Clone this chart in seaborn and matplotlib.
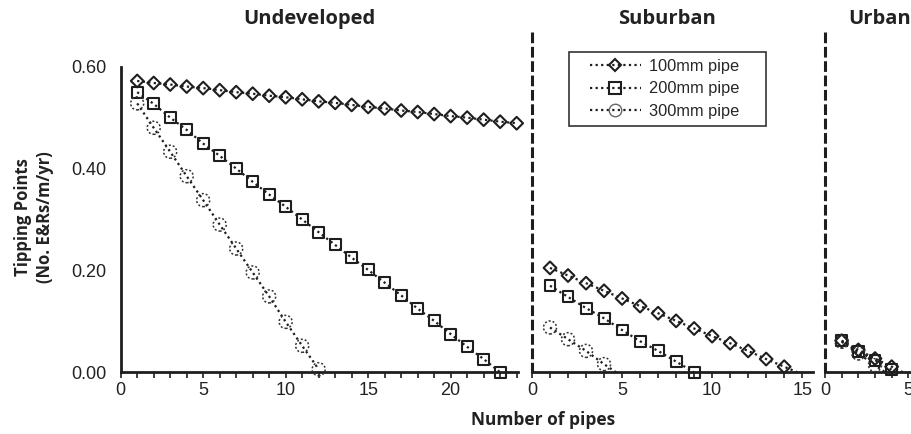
import seaborn as sns
import matplotlib.pyplot as plt
import pandas as pd
from matplotlib.lines import Line2D
from matplotlib.patches import Rectangle

# values
pipes_labels = ["100mm pipe", "200mm pipe", "300mm pipe"]

undev_100 = [0.572, 0.568, 0.565, 0.561, 0.558, 0.554, 0.550, 0.547, 0.543, 0.540, 0.536, 0.532,
             0.529, 0.525, 0.521, 0.518, 0.514, 0.511, 0.507, 0.503, 0.500, 0.496, 0.492, 0.489]
undev_200 = [0.550, 0.527, 0.500, 0.476, 0.449, 0.425, 0.400, 0.374, 0.349, 0.325, 0.300, 0.275,
             0.250, 0.225, 0.201, 0.176, 0.151, 0.125, 0.101, 0.075, 0.050, 0.026, 0.000]
undev_300 = [0.528, 0.480, 0.433, 0.385, 0.338, 0.290, 0.243, 0.196, 0.149, 0.099, 0.052, 0.006]

sub_100 = [0.205, 0.190, 0.175, 0.160, 0.145, 0.130, 0.116, 0.101, 0.086, 0.071, 0.057, 0.042,
           0.026, 0.011, -0.004]
sub_200 = [0.170, 0.148, 0.126, 0.106, 0.083, 0.061, 0.042, 0.021, 0.000]
sub_300 = [0.088, 0.065, 0.042, 0.016, -0.008]

urban_100 = [0.062, 0.044, 0.027, 0.011, -0.005]
urban_200 = [0.062, 0.040, 0.024, 0.005, -0.015]
urban_300 = [0.060, 0.037, 0.014, -0.009]

panel_titles = ["Undeveloped", "Suburban", "Urban"]
y_ticks = [0.0, 0.2, 0.4, 0.6]
y_ticklabels = ["0.00", "0.20", "0.40", "0.60"]

sns.set_style("white")
plt.rcParams["font.family"] = ["Liberation Sans", "DejaVu Sans"]

W, H = 912, 434
fig = plt.figure(figsize=(W / 100, H / 100), dpi=100)


def fx(px):
    return px / W


def fy(py):
    return 1 - py / H


y0, y1 = 372.3, 66.7
ax_u = fig.add_axes([fx(120.7), fy(y0), fx(518.3) - fx(120.7), fy(y1) - fy(y0)])
ax_s = fig.add_axes([fx(532), fy(y0), fx(813) - fx(532), fy(y1) - fy(y0)])
ax_r = fig.add_axes([fx(825), fy(y0), fx(1085) - fx(825), fy(y1) - fy(y0)])

markers = ["D", "s", "o"]
msizes = [42, 62, 88]
ink = "#1e1e1e"
dots = (0, (1, 1.5))


def draw(ax, series):
    for vals, mk, ms in zip(series, markers, msizes):
        df = pd.DataFrame({"n": range(1, len(vals) + 1), "tp": vals})
        sns.lineplot(data=df, x="n", y="tp", ax=ax, color=ink, lw=1.6,
                     linestyle=dots, dash_capstyle="butt")
        vis = df[df["tp"] >= 0]
        if mk == "o":
            sns.scatterplot(data=vis, x="n", y="tp", ax=ax, marker=mk, s=ms,
                            facecolor="none", edgecolor="#333333", linewidth=1.1,
                            linestyle=(0, (1.3, 1.3)), clip_on=False, zorder=3)
        else:
            sns.scatterplot(data=vis, x="n", y="tp", ax=ax, marker=mk, s=ms,
                            facecolor="none", edgecolor=ink, linewidth=1.5,
                            clip_on=False, zorder=3)


draw(ax_u, [undev_100, undev_200, undev_300])
draw(ax_s, [sub_100, sub_200, sub_300])
draw(ax_r, [urban_100, urban_200, urban_300])

for ax, xmax in [(ax_u, 24.1), (ax_s, 15.6), (ax_r, 15.6)]:
    ax.set_xlim(0, xmax)
    ax.set_ylim(0, 0.6)
    ax.set_xlabel("")
    ax.set_ylabel("")
    ax.set_xticks(range(0, int(xmax) + 1, 5))
    ax.set_xticks(range(0, int(xmax) + 1), minor=True)
    ax.tick_params(axis="x", which="both", direction="out", length=4, width=1.2,
                   color=ink, bottom=True, labelsize=13, labelcolor="#222222", pad=3)
    for side in ["top", "right"]:
        ax.spines[side].set_visible(False)
    ax.spines["bottom"].set_color(ink)
    ax.spines["bottom"].set_linewidth(2)
    ax.set_facecolor("none")

ax_u.set_yticks(y_ticks)
ax_u.set_yticklabels(y_ticklabels)
ax_u.tick_params(axis="y", length=0, labelsize=13, labelcolor="#222222", pad=10)
ax_u.spines["left"].set_color(ink)
ax_u.spines["left"].set_linewidth(2)
for ax in [ax_s, ax_r]:
    ax.spines["left"].set_visible(False)
    ax.set_yticks([])

# dashed separators between panels
for px in [532, 825]:
    fig.add_artist(Line2D([fx(px), fx(px)], [fy(32), fy(372.3)], color=ink, lw=2.2,
                          linestyle=(0, (3.5, 1.2))))

bold = dict(family=["Open Sans", "DejaVu Sans"], fontweight="bold", color="#222222")
fig.text(fx(309), fy(19), panel_titles[0], ha="center", va="center", fontsize=14.5, **bold)
fig.text(fx(666.7), fy(19), panel_titles[1], ha="center", va="center", fontsize=14.5, **bold)
fig.text(fx(848.3), fy(19), panel_titles[2], ha="left", va="center", fontsize=14.5, **bold)
fig.text(fx(543), fy(420), "Number of pipes", ha="center", va="center", fontsize=12.5, **bold)
fig.text(fx(34), fy(217), "Tipping Points\n(No. E&Rs/m/yr)", ha="center", va="center",
         rotation=90, fontsize=12, linespacing=1.25, **bold)

# legend
handles = [
    Line2D([], [], color=ink, lw=1.6, linestyle=dots, marker="D",
           markersize=6.5, mfc="none", mec=ink, mew=1.5),
    Line2D([], [], color=ink, lw=1.6, linestyle=dots, marker="s",
           markersize=8, mfc="none", mec=ink, mew=1.5),
    Line2D([], [], color=ink, lw=1.6, linestyle=dots, marker="o",
           markersize=9, mfc="none", mec="#666666", mew=1.0),
]
fig.legend(handles, pipes_labels, loc="center", bbox_to_anchor=(fx(664.7), fy(89)),
           frameon=False, fontsize=11.8, handlelength=3.1, handletextpad=0.5,
           labelspacing=0.45, borderpad=0)
fig.add_artist(Rectangle((fx(569), fy(125.7)), fx(765.7) - fx(569), fy(52.3) - fy(125.7),
                         fill=False, edgecolor="#333333", lw=1.2))

fig.savefig("out.png", dpi=100)
